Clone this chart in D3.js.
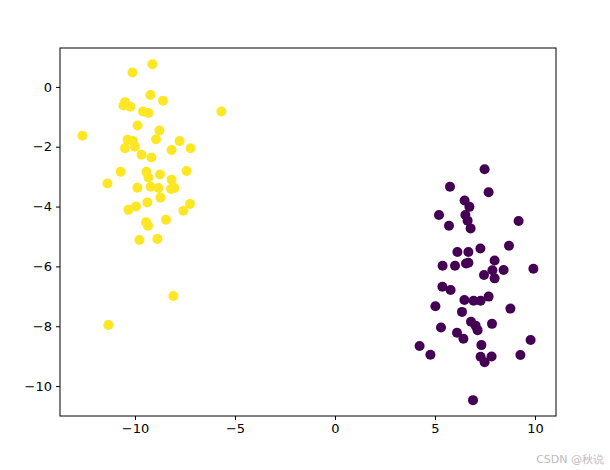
<!DOCTYPE html>
<html>
<head>
<meta charset="utf-8">
<script src="https://cdn.jsdelivr.net/npm/d3@7"></script>
<style>
  body { margin: 0; background: #fff; }
  text { font-family: "DejaVu Sans", sans-serif; }
</style>
</head>
<body>
<div id="chart"></div>
<script>
// cluster 0 (purple) and cluster 1 (yellow)
const purpleX = [7.48,5.75,7.68,6.48,6.72,5.2,6.52,6.63,5.7,6.78,9.18,8.7,7.27,6.12,6.67,7.98,5.38,6.0,6.55,6.67,7.87,8.43,9.92,7.45,7.98,5.37,5.78,7.68,6.47,6.93,7.28,5.02,8.77,6.35,6.8,7.03,7.13,7.85,5.3,6.1,6.42,9.78,7.32,4.23,4.77,7.28,7.83,9.27,7.48,6.9];
const purpleY = [-2.75,-3.34,-3.52,-3.8,-4.01,-4.28,-4.28,-4.47,-4.64,-4.73,-4.48,-5.31,-5.4,-5.52,-5.52,-5.8,-5.98,-5.98,-5.9,-5.88,-6.13,-6.12,-6.08,-6.29,-6.4,-6.68,-6.79,-7.01,-7.12,-7.15,-7.15,-7.33,-7.41,-7.52,-7.85,-7.98,-8.13,-7.92,-8.04,-8.22,-8.42,-8.46,-8.63,-8.66,-8.95,-9.02,-9.01,-8.96,-9.2,-10.47];
const yellowX = [-9.13,-10.13,-9.23,-8.6,-10.5,-10.58,-10.23,-9.6,-9.33,-5.68,-9.87,-8.78,-12.63,-8.95,-10.37,-10.1,-7.77,-10.5,-10.0,-8.17,-7.22,-9.67,-9.18,-10.72,-9.43,-7.42,-8.75,-9.33,-11.38,-8.17,-9.88,-9.22,-8.83,-8.2,-8.03,-8.73,-9.38,-7.25,-9.95,-10.33,-7.58,-8.45,-9.45,-9.35,-9.78,-8.88,-8.08,-11.33];
const yellowY = [0.76,0.48,-0.27,-0.46,-0.51,-0.62,-0.66,-0.82,-0.87,-0.82,-1.29,-1.46,-1.63,-1.75,-1.77,-1.81,-1.81,-2.05,-2.0,-2.11,-2.05,-2.27,-2.36,-2.84,-2.84,-2.81,-2.93,-3.03,-3.23,-3.1,-3.37,-3.34,-3.38,-3.41,-3.38,-3.7,-3.86,-3.91,-4.0,-4.11,-4.14,-4.44,-4.52,-4.64,-5.12,-5.08,-6.99,-7.96];
const xTicks = [-10, -5, 0, 5, 10];
const yTicks = [0, -2, -4, -6, -8, -10];

const width = 610, height = 470;
const margin = { top: 48, right: 54, bottom: 54, left: 60 };

const svg = d3.select("#chart").append("svg")
  .attr("width", width)
  .attr("height", height);

const x = d3.scaleLinear().domain([-13.75, 11.05]).range([margin.left, width - margin.right]);
const y = d3.scaleLinear().domain([-11.0, 1.3]).range([height - margin.bottom, margin.top]);

const points = [];
purpleX.forEach((v, i) => points.push({ x: v, y: purpleY[i], c: "#440154" }));
yellowX.forEach((v, i) => points.push({ x: v, y: yellowY[i], c: "#fde725" }));

svg.append("g")
  .selectAll("circle")
  .data(points)
  .join("circle")
  .attr("cx", d => x(d.x))
  .attr("cy", d => y(d.y))
  .attr("r", 5)
  .attr("fill", d => d.c);

svg.append("rect")
  .attr("x", margin.left).attr("y", margin.top)
  .attr("width", width - margin.left - margin.right)
  .attr("height", height - margin.top - margin.bottom)
  .attr("fill", "none").attr("stroke", "#000").attr("stroke-width", 1);

const xAxis = svg.append("g")
  .attr("transform", `translate(0,${height - margin.bottom})`)
  .call(d3.axisBottom(x).tickValues(xTicks).tickSize(4).tickPadding(4).tickFormat(d3.format("d")));
const yAxis = svg.append("g")
  .attr("transform", `translate(${margin.left},0)`)
  .call(d3.axisLeft(y).tickValues(yTicks).tickSize(4).tickPadding(4).tickFormat(d3.format("d")));

[xAxis, yAxis].forEach(g => {
  g.select(".domain").remove();
  g.selectAll("text").attr("font-size", 13).attr("font-family", "DejaVu Sans").attr("fill", "#000");
  g.selectAll("line").attr("stroke", "#000");
});

svg.append("text")
  .attr("x", 604).attr("y", 463)
  .attr("text-anchor", "end")
  .attr("font-size", 11)
  .attr("fill", "#bbb")
  .text("CSDN @秋说");
</script>
</body>
</html>
